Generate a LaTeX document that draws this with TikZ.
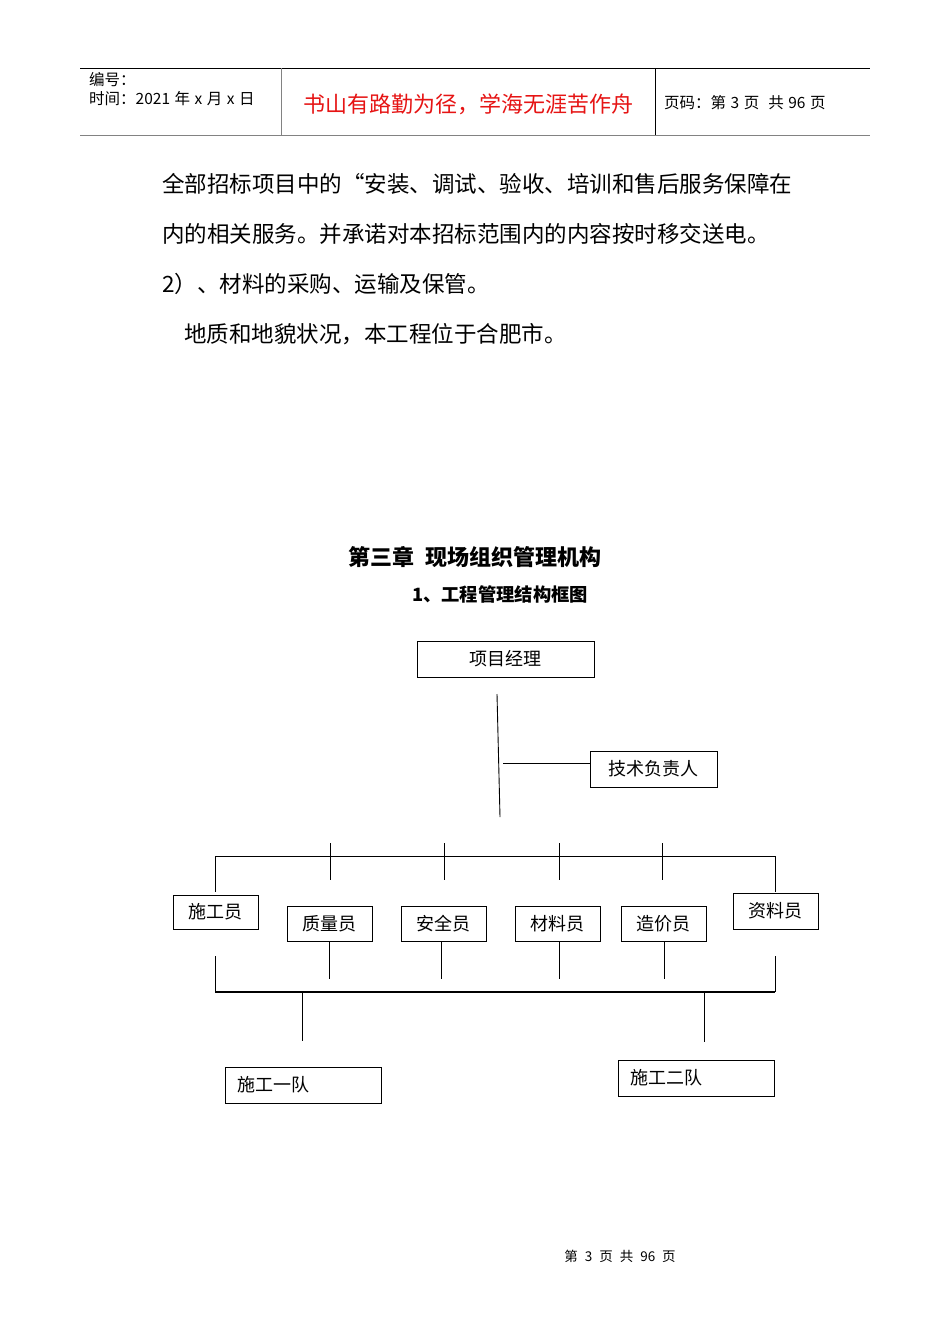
\documentclass[tikz,border=0pt]{standalone}
\usepackage{fontspec}
\usetikzlibrary{calc}
\setmainfont{Noto Sans CJK SC}
\definecolor{hdrred}{RGB}{230,20,20}
\definecolor{hdrgrey}{RGB}{130,130,130}
\newcommand{\gp}{\hspace{4.5pt}}
\begin{document}
\begin{tikzpicture}[x=1pt,y=-1pt,
  box/.style={draw=black,line width=0.9pt,minimum height=36pt,inner sep=0pt,font=\fontsize{18}{18}\selectfont},
  conn/.style={line width=0.9pt},
  body/.style={anchor=west,inner sep=0pt,font=\fontsize{22.5}{22.5}\selectfont}]
\useasboundingbox (0,0) rectangle (950,1344);
\fill[white] (0,0) rectangle (950,1344);
% header
\draw[line width=0.8pt] (80,68) -- (870,68);
\draw[hdrgrey,line width=1.6pt] (80,135.5) -- (870,135.5);
\draw[line width=0.8pt,hdrgrey] (281,68) -- (281,135);
\draw[line width=0.8pt] (655,68) -- (655,135);
\node[anchor=west,inner sep=0pt,font=\fontsize{15.5}{15.5}\selectfont] (hno) at (89,80) {编号：};
\node[anchor=west,inner sep=0pt,font=\fontsize{15.5}{15.5}\selectfont] (htime) at (89,99) {时间：2021\gp 年\gp x\gp 月\gp x\gp 日};
\node[inner sep=0pt,text=hdrred,font=\fontsize{22}{22}\selectfont] (hmotto) at (468,104) {书山有路勤为径，学海无涯苦作舟};
\node[anchor=west,inner sep=0pt,font=\fontsize{15.5}{15.5}\selectfont] (hpage) at (664,103) {页码：第\gp 3\gp 页\hspace{9pt}共\gp 96\gp 页};
% body text
\node[body] (t1) at (162,184) {全部招标项目中的“安装、调试、验收、培训和售后服务保障在};
\node[body] (t2) at (162,234) {内的相关服务。并承诺对本招标范围内的内容按时移交送电。};
\node[body] (t3) at (162,284) {2）、材料的采购、运输及保管。};
\node[body] (t4) at (184,334) {地质和地貌状况，本工程位于合肥市。};
% titles
\node[inner sep=0pt,font=\fontsize{22}{22}\selectfont\bfseries] (title) at (475,557) {第三章\hspace{12pt}现场组织管理机构};
\node[inner sep=0pt,font=\fontsize{18.3}{18.3}\selectfont\bfseries] (subtitle) at (500,594) {1、工程管理结构框图};
% chart boxes
\node[box,minimum width=177pt] (pm) at (505.5,659) {项目经理};
\node[box,minimum width=127pt] (tech) at (653.5,769) {技术负责人};
\node[box,minimum width=85pt,minimum height=34pt] (sgy) at (215.5,912) {施工员};
\node[box,minimum width=85pt,minimum height=35pt] (zly) at (329.5,923.5) {质量员};
\node[box,minimum width=85pt,minimum height=35pt] (aqy) at (443.5,923.5) {安全员};
\node[box,minimum width=85pt,minimum height=35pt] (cly) at (557.5,923.5) {材料员};
\node[box,minimum width=85pt,minimum height=35pt] (zjy) at (663.5,923.5) {造价员};
\node[box,minimum width=85pt,minimum height=36pt] (zlyr) at (775.5,911) {资料员};
\node[box,text width=132pt,align=left,inner xsep=12pt,minimum height=36pt] (t1q) at (303,1085) {施工一队};
\node[box,text width=132pt,align=left,inner xsep=12pt,minimum height=36pt] (t2q) at (696.5,1078) {施工二队};
% connectors top
\coordinate (pmtop) at (497,694);
\coordinate (pmbot) at (500,817);
\draw[conn] (pmtop) -- (pmbot);
\coordinate (techl) at (503,763);
\draw[conn] (techl) -- (techl -| tech.west);
\coordinate (barL) at (215,856);
\coordinate (barR) at (775,856);
\draw[conn] ($(sgy.north -| barL)+(0,-3)$) -- (barL) -- (barR) -- ($(barR)+(0,36)$);
\foreach \xx in {330,444,559,662}{\draw[conn] (\xx,843) -- (\xx,880);}
% connectors bottom
\coordinate (bbL) at (215,992);
\coordinate (bbR) at (775,992);
\draw[conn,line width=1.1pt] (bbL) -- (bbR);
\draw[conn] (215,956) -- (bbL);
\draw[conn] (775,956) -- (bbR);
\draw[conn] (zly.south) -- (zly.south |- 0,979);
\draw[conn] (aqy.south -| 441,0) -- (441,979);
\draw[conn] (cly.south -| 559,0) -- (559,979);
\draw[conn] (zjy.south -| 664,0) -- (664,979);
\coordinate (d1) at (302,992);
\coordinate (d2) at (704,992);
\draw[conn] (d1) -- (302,1041);
\draw[conn] (d2) -- (704,1042);
% footer
\node[inner sep=0pt,font=\fontsize{13.5}{13.5}\selectfont] (footer) at (620,1256) {第\hspace{7pt}3\hspace{7pt}页\hspace{7pt}共\hspace{7pt}96\hspace{7pt}页};
\end{tikzpicture}
\end{document}
